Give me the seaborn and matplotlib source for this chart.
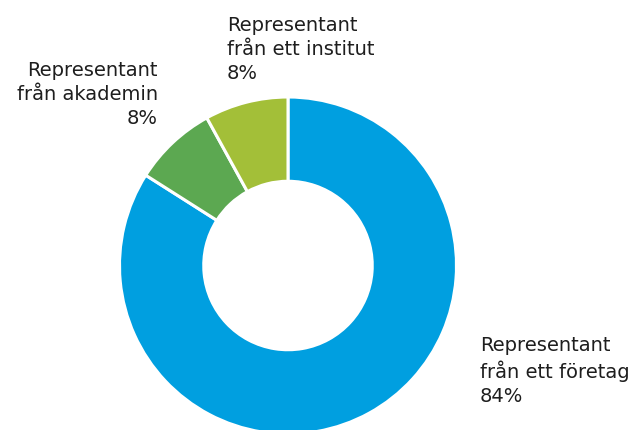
import matplotlib
matplotlib.use("Agg")
import matplotlib.pyplot as plt
import seaborn as sns

# Composition of representatives
categories = ["Representant\nfrån ett företag", "Representant\nfrån akademin", "Representant\nfrån ett institut"]
shares = [84, 8, 8]
colors = ["#009fe0", "#5ca851", "#a3bf38"]

sns.set_theme(style="white")
plt.rcParams["font.family"] = ["DejaVu Sans"]

W, H = 640, 430
fig = plt.figure(figsize=(W / 100, H / 100), dpi=100)
ax = fig.add_axes([0, 0, 1, 1])

cx, cy, r = 288, H - 265.5, 168.5
wedges, _ = ax.pie(
    shares,
    colors=colors,
    startangle=90,
    counterclock=False,
    center=(cx, cy),
    radius=r,
    wedgeprops=dict(width=r * 0.5, edgecolor="white", linewidth=2.2),
)
ax.set_xlim(0, W)
ax.set_ylim(0, H)
ax.set_aspect("equal")
ax.axis("off")

txt = dict(fontsize=14, color="#1e1e1e", linespacing=1.33, va="top")
labels = [f"{c}\n{v}%" for c, v in zip(categories, shares)]
ax.text(480, H - 336, labels[0], ha="left", **txt)
ax.text(158, H - 61, labels[1], ha="right", multialignment="right", **txt)
ax.text(227, H - 16, labels[2], ha="left", **txt)

fig.savefig("out.png", dpi=100)
